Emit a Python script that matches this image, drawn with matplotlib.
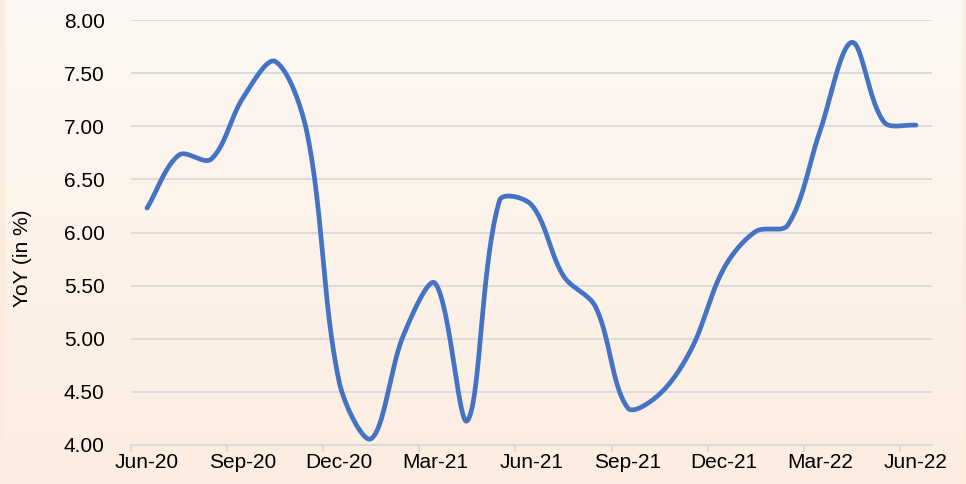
import numpy as np
import matplotlib
matplotlib.use("Agg")
import matplotlib.pyplot as plt
from matplotlib.colors import LinearSegmentedColormap

months = ["Jun-20", "Jul-20", "Aug-20", "Sep-20", "Oct-20", "Nov-20", "Dec-20",
          "Jan-21", "Feb-21", "Mar-21", "Apr-21", "May-21", "Jun-21", "Jul-21",
          "Aug-21", "Sep-21", "Oct-21", "Nov-21", "Dec-21", "Jan-22", "Feb-22",
          "Mar-22", "Apr-22", "May-22", "Jun-22"]
yoy = [6.23, 6.73, 6.69, 7.27, 7.61, 6.93, 4.59, 4.06, 5.03, 5.52, 4.23, 6.30,
       6.26, 5.59, 5.30, 4.35, 4.48, 4.91, 5.66, 6.01, 6.07, 6.95, 7.79, 7.04, 7.01]
y_ticks = [4.0, 4.5, 5.0, 5.5, 6.0, 6.5, 7.0, 7.5, 8.0]
y_label = "YoY (in %)"

plt.rcParams['font.family'] = ['Liberation Sans', 'DejaVu Sans']

W, H = 966, 484
fig = plt.figure(figsize=(W / 100, H / 100), dpi=100)
fig.patch.set_facecolor("#fdebdd")

# gradient background
bg = fig.add_axes([5 / W, 0, 958 / W, 1])
bg.set_axis_off()
cmap = LinearSegmentedColormap.from_list("g", ["#fcf8f3", "#fdede0"])
grad = np.linspace(0, 1, 256).reshape(-1, 1)
bg.imshow(grad, aspect="auto", cmap=cmap, extent=[0, 1, 1, 0])
bg.set_xlim(0, 1); bg.set_ylim(1, 0)

ax_left, ax_right, ax_top, ax_bot = 131, 932, 20, 445
ax = fig.add_axes([ax_left / W, 1 - ax_bot / H, (ax_right - ax_left) / W, (ax_bot - ax_top) / H])
ax.patch.set_alpha(0)

n = len(yoy)
xmin, xmax, ymin, ymax = -0.5, n - 0.5, 4.0, 8.0
sx = (ax_right - ax_left) / (xmax - xmin)
sy = (ax_bot - ax_top) / (ymax - ymin)

# Excel-like smoothed line: distance-weighted Bezier, computed in screen space
x = np.arange(n, dtype=float) * sx
y = np.array(yoy, dtype=float) * sy
px = np.concatenate([[x[0]], x, [x[-1]]])
py = np.concatenate([[y[0]], y, [y[-1]]])
xs, ys = [], []
t = np.linspace(0, 1, 60)
for i in range(1, len(px) - 2):
    P0 = np.array([px[i - 1], py[i - 1]]); P1 = np.array([px[i], py[i]])
    P2 = np.array([px[i + 1], py[i + 1]]); P3 = np.array([px[i + 2], py[i + 2]])
    d01 = np.linalg.norm(P1 - P0); d12 = np.linalg.norm(P2 - P1); d23 = np.linalg.norm(P3 - P2)
    C1 = P1 + (P2 - P0) * (d12 / (d01 + d12)) / 3
    C2 = P2 - (P3 - P1) * (d12 / (d12 + d23)) / 3
    b = ((1 - t) ** 3)[:, None] * P1 + (3 * (1 - t) ** 2 * t)[:, None] * C1 + \
        (3 * (1 - t) * t ** 2)[:, None] * C2 + (t ** 3)[:, None] * P2
    xs.extend(b[:, 0] / sx); ys.extend(b[:, 1] / sy)

ax.plot(xs, ys, color="#4472c4", lw=3.4, solid_capstyle="round", zorder=3, clip_on=False)

ax.set_xlim(xmin, xmax)
ax.set_ylim(ymin, ymax)
ax.set_yticks(y_ticks)
ax.set_yticklabels([f"{v:.2f}" for v in y_ticks])
ax.grid(axis="y", color="#d9d9d9", lw=1.3)
ax.set_axisbelow(True)

major = list(range(0, n, 3))
ax.set_xticks(major)
ax.set_xticklabels([months[i] for i in major])
ax.set_xticks([i - 0.5 for i in major], minor=True)
ax.tick_params(axis="x", which="major", length=0, pad=6, labelsize=15, colors="#000000")
ax.tick_params(axis="x", which="minor", length=5, width=1.3, color="#d9d9d9")
ax.tick_params(axis="y", length=0, pad=19, labelsize=15)

for s in ["top", "right", "left"]:
    ax.spines[s].set_visible(False)
ax.spines["bottom"].set_color("#d9d9d9")
ax.spines["bottom"].set_linewidth(1.3)

fig.text(23 / W, 1 - 258 / H, y_label, rotation=90, ha="center", va="center", fontsize=15)

fig.savefig("out.png", dpi=100)
